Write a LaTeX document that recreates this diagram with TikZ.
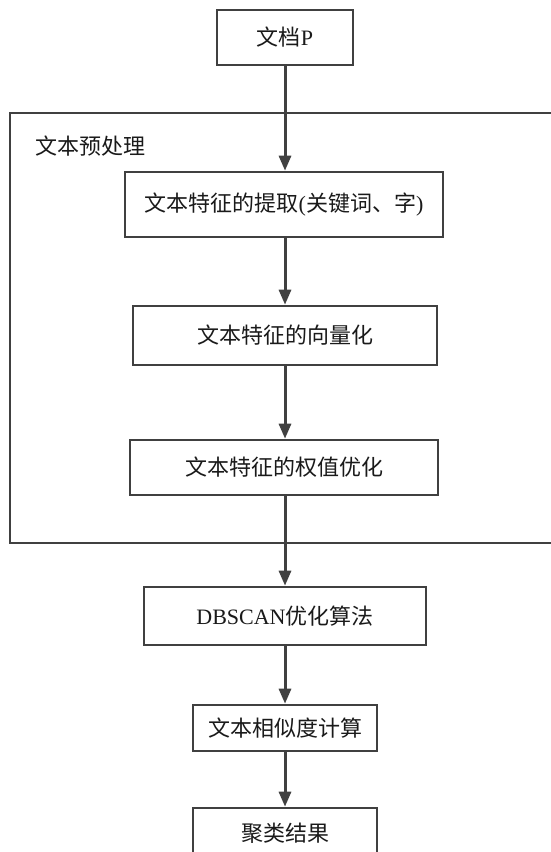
\documentclass[tikz,border=0pt]{standalone}
\usepackage{fontspec}
\setmainfont{Liberation Serif}
\newfontfamily\cjk{Noto Sans CJK SC}
\usetikzlibrary{arrows.meta}
\definecolor{linec}{HTML}{404040}
\definecolor{textc}{HTML}{1A1A1A}
\tikzset{
  procbox/.style={draw=linec, line width=2.6bp, fill=white, rectangle, inner sep=0pt,
    text=textc, font=\fontsize{22bp}{26bp}\selectfont},
  flow/.style={draw=linec, line width=3bp, -{Triangle[length=15bp,width=12bp]}},
  frame/.style={draw=linec, line width=2bp},
}
\begin{document}
\begin{tikzpicture}[x=1bp,y=-1bp]
\useasboundingbox (0,0) rectangle (551,852);
\clip (0,0) rectangle (551,852);
\fill[white] (0,0) rectangle (551,852);
% container
\coordinate (ctr) at (570,113);
\coordinate (cbr) at (570,543);
\draw[frame] (ctr) -- (10,113) -- (10,543) -- (cbr);
\node[anchor=west, text=textc, font=\fontsize{22bp}{26bp}\selectfont, inner sep=0pt] (pre) at (35,146) {\cjk 文本预处理};
% boxes
\node[procbox, minimum width=136bp, minimum height=55bp] (doc) at (285,37.5) {{\cjk 文档}P};
\node[procbox, minimum width=318bp, minimum height=65bp] (b1) at (284,204.5) {{\cjk 文本特征的提取}({\cjk 关键词、字})};
\node[procbox, minimum width=304bp, minimum height=59bp] (b2) at (285,335.5) {\cjk 文本特征的向量化};
\node[procbox, minimum width=308bp, minimum height=55bp] (b3) at (284,467.5) {\cjk 文本特征的权值优化};
\node[procbox, minimum width=282bp, minimum height=58bp] (db) at (285,616) {DBSCAN{\cjk 优化算法}};
\node[procbox, minimum width=184bp, minimum height=46bp] (sim) at (285,728) {\cjk 文本相似度计算};
\node[procbox, minimum width=184bp, minimum height=50bp] (res) at (285,833) {\cjk 聚类结果};
% connectors
\draw[flow] (doc.south) -- (b1.north -| doc.south);
\draw[flow] (b1.south -| doc.south) -- (b2.north -| doc.south);
\draw[flow] (b2.south -| doc.south) -- (b3.north -| doc.south);
\draw[flow] (b3.south -| doc.south) -- (db.north -| doc.south);
\draw[flow] (db.south -| doc.south) -- (sim.north -| doc.south);
\draw[flow] (sim.south -| doc.south) -- (res.north -| doc.south);
\end{tikzpicture}
\end{document}
